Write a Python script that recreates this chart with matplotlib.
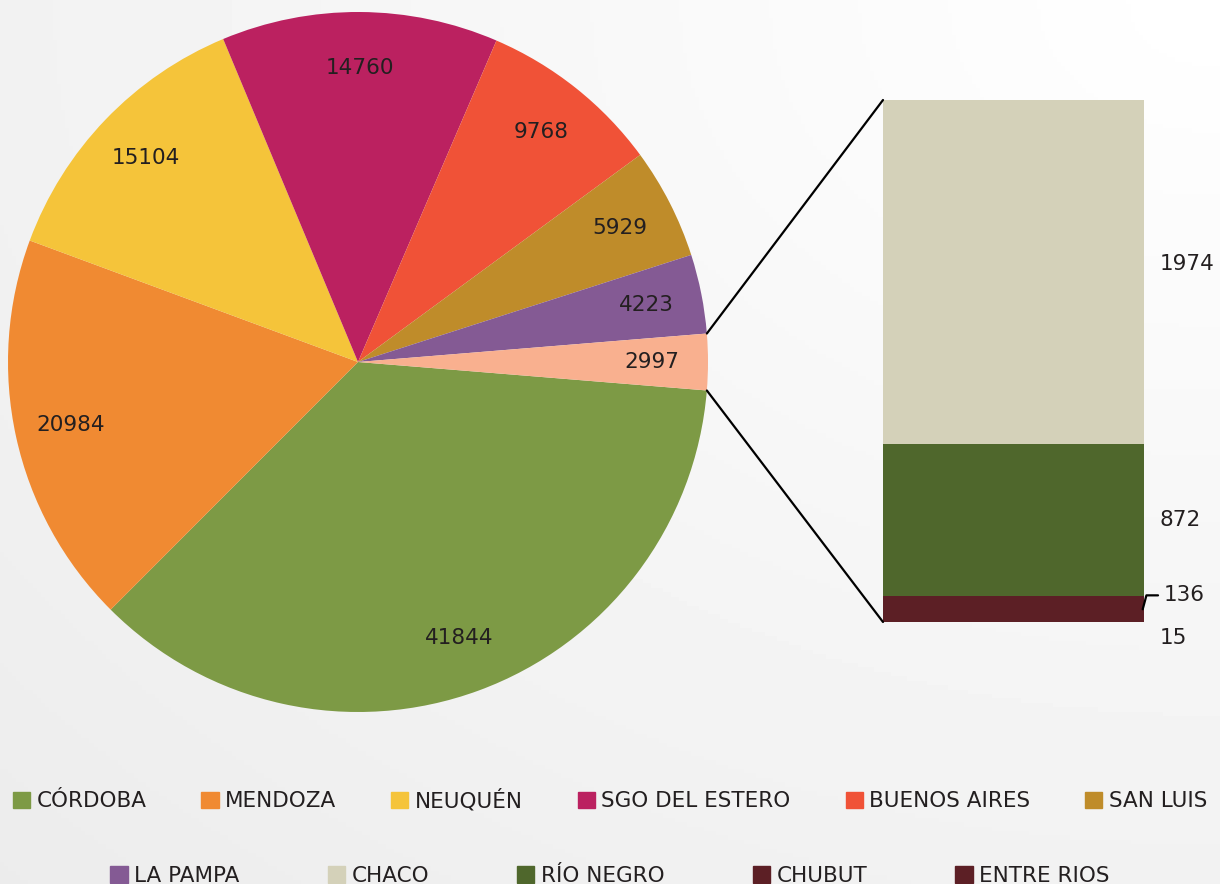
import numpy as np
import matplotlib.pyplot as plt
from matplotlib.patches import Patch, ConnectionPatch

# datos de la torta principal
provincias = ["CÓRDOBA", "MENDOZA", "NEUQUÉN", "SGO DEL ESTERO",
              "BUENOS AIRES", "SAN LUIS", "LA PAMPA", "OTRAS"]
valores = [41844, 20984, 15104, 14760, 9768, 5929, 4223, 2997]
colores = ["#7d9a45", "#f08a32", "#f5c43a", "#bb2160",
           "#f05237", "#bf8c2a", "#845a94", "#f9b08f"]

# desglose de "otras" (de abajo hacia arriba)
otras = ["ENTRE RIOS", "CHUBUT", "RÍO NEGRO", "CHACO"]
otras_valores = [15, 136, 872, 1974]
otras_colores = ["#5c1f25", "#5c1f25", "#4f672c", "#d4d1b9"]

W, H = 1220, 884
fig = plt.figure(figsize=(W / 100, H / 100), dpi=100)

# fondo con degradado suave
bg = fig.add_axes([0, 0, 1, 1], zorder=-10)
yy, xx = np.mgrid[0:1:200j, 0:1:300j]
dist = np.sqrt((1 - xx) ** 2 + yy ** 2) / np.sqrt(2)
bg.imshow(1.0 - 0.075 * dist, cmap="gray", vmin=0, vmax=1, aspect="auto",
          extent=[0, 1, 0, 1])
bg.axis("off")

plt.rcParams['font.family'] = ['DejaVu Sans']
txt = "#231f20"
fs = 15.5

# torta
ax1 = fig.add_axes([8 / W, (H - 712) / H, 700 / W, 700 / H])
total = sum(valores)
ang = 360 * valores[-1] / total / 2
wedges, _ = ax1.pie(valores, colors=colores, startangle=-ang,
                    counterclock=False, radius=1)
ax1.set_xlim(-1, 1)
ax1.set_ylim(-1, 1)
acum = 0
for v in valores:
    mid = np.deg2rad(-ang - 360 * (acum + v / 2) / total)
    r = 0.84
    ax1.text(r * np.cos(mid), r * np.sin(mid), str(v), ha="center",
             va="center", fontsize=fs, color=txt)
    acum += v

# barra
ax2 = fig.add_axes([883 / W, (H - 622) / H, 261 / W, 522 / H])
abajo = 0
for nombre, v, c in zip(otras, otras_valores, otras_colores):
    ax2.bar(0.5, v, width=1, bottom=abajo, color=c)
    abajo += v
ax2.set_xlim(0, 1)
ax2.set_ylim(0, sum(otras_valores))
ax2.axis("off")

ax2.text(1.06, 15 + 136 + 872 + 1974 / 2 + 45, "1974", fontsize=fs,
         color=txt, va="center", ha="left")
ax2.text(1.06, 15 + 136 + 872 / 2, "872", fontsize=fs,
         color=txt, va="center", ha="left")
ax2.annotate("136", xy=(0.995, 15 + 136 / 2 - 10), xytext=(1.075, 15 + 136 / 2 + 70),
             fontsize=fs, color=txt, va="center", ha="left",
             arrowprops=dict(arrowstyle="-", color="black", lw=1.6,
                             connectionstyle="angle,angleA=0,angleB=75,rad=0",
                             shrinkA=2, shrinkB=0))
ax2.text(1.06, -90, "15", fontsize=fs, color=txt, va="center", ha="left")

# lineas de conexion
th = np.deg2rad(ang)
for sgn, yb in [(1, sum(otras_valores)), (-1, 0)]:
    con = ConnectionPatch(xyA=(np.cos(th), sgn * np.sin(th)), coordsA=ax1.transData,
                          xyB=(0, yb), coordsB=ax2.transData,
                          color="black", lw=1.6)
    fig.add_artist(con)

# leyenda
h1 = [Patch(color=c) for c in colores[:7]]
fig.legend(h1[:6], provincias[:6], loc="center",
           bbox_to_anchor=(0.5, (H - 800) / H), ncol=6, frameon=False,
           fontsize=fs, handlelength=0.8, handleheight=0.8,
           handletextpad=0.3, columnspacing=2.55, labelcolor=txt)
h2 = [Patch(color=colores[6])] + [Patch(color=c) for c in otras_colores[::-1]]
n2 = ["LA PAMPA"] + otras[::-1]
fig.legend(h2, n2, loc="center", bbox_to_anchor=(0.5, (H - 876) / H),
           ncol=5, frameon=False, fontsize=fs, handlelength=0.8,
           handleheight=0.8, handletextpad=0.3, columnspacing=4.1,
           labelcolor=txt)

fig.savefig("out.png", dpi=100)
